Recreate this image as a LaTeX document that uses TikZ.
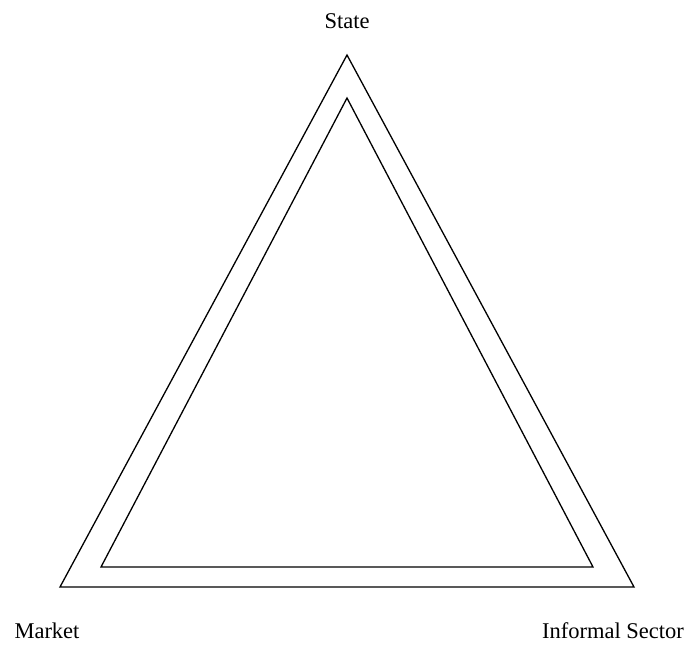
\documentclass[tikz,border=0pt]{standalone}
\usepackage{fontspec}
\setmainfont{Liberation Serif}
\usetikzlibrary{positioning,calc}

\begin{document}
\begin{tikzpicture}[x=1pt,y=-1pt,font=\fontsize{22.5}{26}\selectfont,line width=1.3pt]
\tikzset{lbl/.style={inner sep=0pt}}
\useasboundingbox (0,0) rectangle (686,645);
% outer triangle
\coordinate (top) at (347,55);
\coordinate (left) at (60,587);
\coordinate (right) at (634,587);
\draw (top) -- (left) -- (right) -- cycle;
% inner triangle
\coordinate (itop) at (347,98);
\coordinate (ileft) at (101,567);
\coordinate (iright) at (593,567);
\draw (itop) -- (ileft) -- (iright) -- cycle;
\node[lbl] (state) at (347,21) {State};
\node[lbl] (market) at (47,631) {Market};
\node[lbl] (informal) at (613,631) {Informal Sector};
\end{tikzpicture}
\end{document}
